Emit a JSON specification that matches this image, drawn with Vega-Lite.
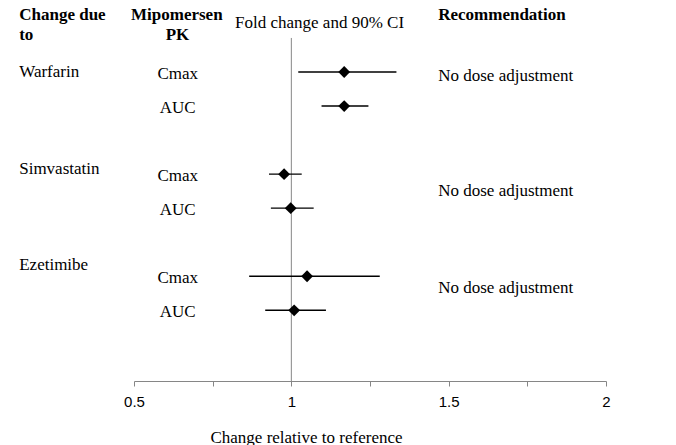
{
  "$schema": "https://vega.github.io/schema/vega-lite/v6.json",
  "autosize": "none",
  "width": 472,
  "height": 381,
  "padding": {"left": 134, "right": 70, "top": 0, "bottom": 64},
  "background": "white",
  "config": {
    "view": {"stroke": null},
    "text": {"font": "Liberation Serif", "fontSize": 17, "color": "black", "baseline": "middle"}
  },
  "datasets": {
    "pk": [
      {"drug": "Warfarin", "pk": "Cmax", "row": 1, "est": 1.168, "lo": 1.022, "hi": 1.334},
      {"drug": "Warfarin", "pk": "AUC", "row": 2, "est": 1.168, "lo": 1.096, "hi": 1.245},
      {"drug": "Simvastatin", "pk": "Cmax", "row": 4, "est": 0.977, "lo": 0.929, "hi": 1.033},
      {"drug": "Simvastatin", "pk": "AUC", "row": 5, "est": 0.998, "lo": 0.935, "hi": 1.071},
      {"drug": "Ezetimibe", "pk": "Cmax", "row": 7, "est": 1.05, "lo": 0.866, "hi": 1.281},
      {"drug": "Ezetimibe", "pk": "AUC", "row": 8, "est": 1.009, "lo": 0.917, "hi": 1.11}
    ],
    "drugs": [
      {"drug": "Warfarin", "nameRow": 1, "recRow": 1.12, "rec": "No dose adjustment"},
      {"drug": "Simvastatin", "nameRow": 3.85, "recRow": 4.5, "rec": "No dose adjustment"},
      {"drug": "Ezetimibe", "nameRow": 6.67, "recRow": 7.35, "rec": "No dose adjustment"}
    ],
    "boldLeft": [
      {"text": "Change due", "hx": 0.1352, "hy": -0.674},
      {"text": "to", "hx": 0.1352, "hy": -0.087},
      {"text": "Recommendation", "hx": 1.4668, "hy": -0.674}
    ],
    "boldCenter": [
      {"text": "Mipomersen", "hx": 0.636, "hy": -0.674},
      {"text": "PK", "hx": 0.638, "hy": -0.087}
    ],
    "plainCenter": [
      {"text": "Fold change and 90% CI", "hx": 1.0897, "hy": -0.43}
    ]
  },
  "layer": [
    {
      "data": {"values": [{}]},
      "mark": {"type": "rule", "color": "#868686", "strokeWidth": 1},
      "encoding": {
        "x": {"datum": 1, "type": "quantitative", "scale": {"domain": [0.5, 2], "nice": false, "zero": false},
          "axis": {
            "title": "Change relative to reference",
            "values": [0.5, 0.75, 1, 1.25, 1.5, 1.75, 2],
            "labelExpr": "(datum.value * 2) % 1 == 0 ? format(datum.value, '~g') : ''",
            "grid": false,
            "domainColor": "#868686",
            "tickColor": "#868686",
            "tickSize": 5,
            "labelFont": "Liberation Sans",
            "labelFontSize": 15,
            "labelColor": "black",
            "labelBaseline": "middle",
            "labelPadding": 15,
            "labelFlush": false,
            "titleFont": "Liberation Serif",
            "titleFontSize": 17,
            "titleFontWeight": "normal",
            "titleColor": "black",
            "titleX": 172,
            "titleY": 56,
            "titleAlign": "center",
            "titleBaseline": "middle"
          }},
        "y": {"datum": 0, "type": "quantitative", "scale": {"domain": [-1.115, 10.077], "reverse": true, "nice": false, "zero": false}, "axis": null},
        "y2": {"datum": 10.077}
      }
    },
    {
      "data": {"name": "pk"},
      "mark": {"type": "rule", "color": "black", "strokeWidth": 1.4},
      "encoding": {
        "x": {"field": "lo", "type": "quantitative"},
        "x2": {"field": "hi"},
        "y": {"field": "row", "type": "quantitative"}
      }
    },
    {
      "data": {"name": "pk"},
      "mark": {"type": "point", "shape": "diamond", "filled": true, "color": "black", "opacity": 1, "size": 140},
      "encoding": {
        "x": {"field": "est", "type": "quantitative"},
        "y": {"field": "row", "type": "quantitative"}
      }
    },
    {
      "data": {"name": "pk"},
      "mark": {"type": "text", "align": "center", "dy": 2},
      "encoding": {
        "x": {"datum": 0.639, "type": "quantitative"},
        "y": {"field": "row", "type": "quantitative"},
        "text": {"field": "pk"}
      }
    },
    {
      "data": {"name": "drugs"},
      "mark": {"type": "text", "align": "left"},
      "encoding": {
        "x": {"datum": 0.1352, "type": "quantitative"},
        "y": {"field": "nameRow", "type": "quantitative"},
        "text": {"field": "drug"}
      }
    },
    {
      "data": {"name": "drugs"},
      "mark": {"type": "text", "align": "left"},
      "encoding": {
        "x": {"datum": 1.4668, "type": "quantitative"},
        "y": {"field": "recRow", "type": "quantitative"},
        "text": {"field": "rec"}
      }
    },
    {
      "data": {"name": "boldLeft"},
      "mark": {"type": "text", "align": "left", "fontWeight": "bold"},
      "encoding": {
        "x": {"field": "hx", "type": "quantitative"},
        "y": {"field": "hy", "type": "quantitative"},
        "text": {"field": "text"}
      }
    },
    {
      "data": {"name": "boldCenter"},
      "mark": {"type": "text", "align": "center", "fontWeight": "bold"},
      "encoding": {
        "x": {"field": "hx", "type": "quantitative"},
        "y": {"field": "hy", "type": "quantitative"},
        "text": {"field": "text"}
      }
    },
    {
      "data": {"name": "plainCenter"},
      "mark": {"type": "text", "align": "center"},
      "encoding": {
        "x": {"field": "hx", "type": "quantitative"},
        "y": {"field": "hy", "type": "quantitative"},
        "text": {"field": "text"}
      }
    }
  ]
}
